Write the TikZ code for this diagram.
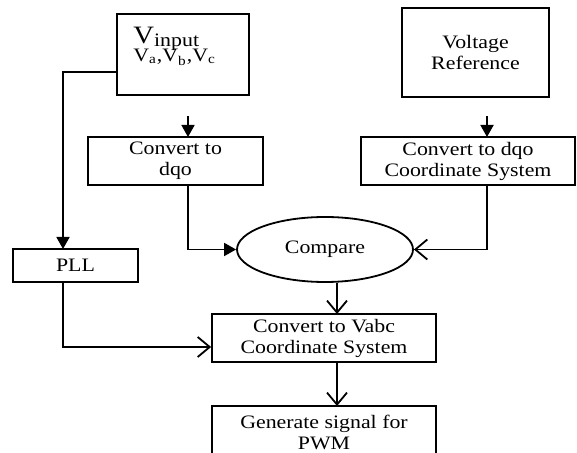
\documentclass[tikz,border=0pt]{standalone}
\usepackage{fontspec}
\setmainfont{Liberation Serif}[FakeStretch=1.15]
\usepackage{tikz}
\usetikzlibrary{positioning, shapes, arrows.meta, calc}

\begin{document}
\begin{tikzpicture}[x=0.5pt, y=-0.5pt,
  box/.style={rectangle, draw=black, line width=0.9pt, fill=white, inner sep=2pt, align=center, font=\fontsize{9.5}{10.5}\selectfont},
  srcbox/.style={box, line width=1.1pt},
  cmpnode/.style={ellipse, draw=black, line width=0.9pt, minimum width=88pt, minimum height=32.5pt, inner sep=0pt, font=\fontsize{9.5}{10.5}\selectfont},
  farrow/.style={-{Triangle[length=6pt, width=6.5pt]}, line width=0.9pt},
  oarrow/.style={-{Straight Barb[length=6pt, width=10pt]}, line width=0.9pt}
]
\useasboundingbox (0,0) rectangle (577,453);

\node[srcbox, minimum width=66pt, minimum height=40.5pt] (vin) at (183,54.5) {};
\node[anchor=base west, inner sep=0pt, font=\fontsize{9.5}{9.5}\selectfont] (vinlbl) at (133,44)
  {{\fontsize{12.5}{12.5}\selectfont V}\raisebox{-0.25ex}{input}};
\node[anchor=base west, inner sep=0pt, font=\fontsize{9.5}{9.5}\selectfont] (vabclbl) at (133,62)
  {V\textsubscript{a},V\textsubscript{b},V\textsubscript{c}};
\node[srcbox, minimum width=73.5pt, minimum height=44.5pt] (vref) at (475.5,52.5) {Voltage\\Reference};

\node[box, minimum width=87.5pt, minimum height=24pt] (dqo) at (175.5,161) {Convert to\\dqo};
\node[box, minimum width=107pt, minimum height=24pt] (dqocs) at (468,161) {Convert to dqo\\Coordinate System};
\node[cmpnode] (cmp) at (325,249.5) {Compare};
\node[box, minimum width=62.5pt, minimum height=16.5pt] (pll) at (75.5,265.5) {PLL};
\node[box, minimum width=112pt, minimum height=24pt] (vabc) at (324,338) {Convert to Vabc\\Coordinate System};
\node[box, minimum width=112pt, minimum height=26pt] (gen) at (324,432) {Generate signal for\\PWM};

% entry points
\coordinate (dqoin) at (188,137);
\coordinate (csin) at (487,137);
\coordinate (pllin) at (63,249);
\coordinate (vabcin) at (337,314);
\coordinate (genin) at (337,406);

\draw[farrow, shorten <=10pt] (vin.south -| dqoin) -- (dqoin);
\draw[farrow, shorten <=9pt] (vref.south -| csin) -- (csin);
\draw[farrow] ([yshift=-8.75pt]vin.west) -| (pllin);
\draw[farrow] (dqo.south -| dqoin) |- (cmp.west);
\draw[oarrow] (dqocs.south -| csin) |- (cmp.east);
\draw[oarrow] (cmp.south -| vabcin) -- (vabcin);
\draw[oarrow] (vabc.south -| genin) -- (genin);
\draw[oarrow] (pll.south -| pllin) |- ([yshift=-4.5pt]vabc.west);

\end{tikzpicture}
\end{document}
